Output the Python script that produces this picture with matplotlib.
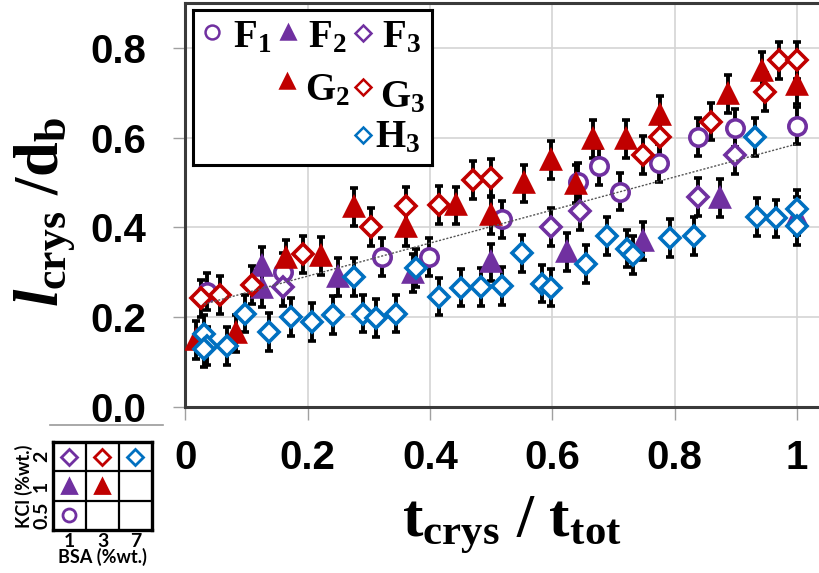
import matplotlib
matplotlib.use("Agg")
import matplotlib.pyplot as plt
from matplotlib.lines import Line2D

plt.rcParams['mathtext.fontset'] = 'custom'
plt.rcParams['mathtext.rm'] = 'Liberation Serif:bold'
plt.rcParams['mathtext.bf'] = 'Liberation Serif:bold'
plt.rcParams['mathtext.it'] = 'Liberation Serif:italic:bold'

# data (t_crys/t_tot, l_crys/d_b)
f1_x = [0.035, 0.160, 0.322, 0.399, 0.517, 0.642, 0.676, 0.710, 0.774, 0.838, 0.898, 1.0]
f1_y = [0.257, 0.301, 0.334, 0.334, 0.418, 0.502, 0.536, 0.480, 0.543, 0.602, 0.621, 0.627]

f2_x = [0.125, 0.125, 0.250, 0.373, 0.500, 0.624, 0.749, 0.874, 1.0]
f2_y = [0.314, 0.265, 0.290, 0.298, 0.322, 0.345, 0.370, 0.465, 0.426]

f3_x = [0.160, 0.598, 0.645, 0.838, 0.898]
f3_y = [0.267, 0.401, 0.436, 0.468, 0.561]

g2_x = [0.018, 0.083, 0.165, 0.222, 0.276, 0.360, 0.443, 0.500, 0.554, 0.598, 0.638,
        0.666, 0.721, 0.776, 0.888, 0.943, 1.0]
g2_y = [0.149, 0.164, 0.331, 0.337, 0.445, 0.400, 0.449, 0.427, 0.498, 0.550, 0.497,
        0.597, 0.597, 0.651, 0.698, 0.748, 0.718]

g3_x = [0.026, 0.056, 0.109, 0.193, 0.304, 0.360, 0.414, 0.471, 0.500, 0.749, 0.776,
        0.860, 0.948, 0.971, 1.0]
g3_y = [0.242, 0.249, 0.271, 0.340, 0.401, 0.448, 0.450, 0.506, 0.510, 0.562, 0.602,
        0.636, 0.701, 0.772, 0.772]

h3_x = [0.031, 0.035, 0.030, 0.068, 0.098, 0.137, 0.173, 0.207, 0.241, 0.276, 0.291,
        0.311, 0.344, 0.377, 0.414, 0.451, 0.483, 0.517, 0.550, 0.583, 0.598, 0.655,
        0.690, 0.722, 0.732, 0.792, 0.832, 0.931, 0.935, 0.966, 1.0, 1.0]
h3_y = [0.162, 0.136, 0.130, 0.136, 0.208, 0.167, 0.200, 0.190, 0.205, 0.290, 0.208,
        0.199, 0.208, 0.310, 0.246, 0.266, 0.268, 0.270, 0.342, 0.275, 0.266, 0.319,
        0.381, 0.353, 0.339, 0.376, 0.381, 0.601, 0.424, 0.420, 0.441, 0.404]

err = 0.042
trend_x = [0.03, 1.0]
trend_y = [0.229, 0.586]

purple = '#7030A0'
red = '#C00000'
blue = '#0070C0'

# series: (name, x, y, marker, color, filled)
series = [
    ('F1', f1_x, f1_y, 'o', purple, False),
    ('F2', f2_x, f2_y, '^', purple, True),
    ('F3', f3_x, f3_y, 'D', purple, False),
    ('G2', g2_x, g2_y, '^', red, True),
    ('G3', g3_x, g3_y, 'D', red, False),
    ('H3', h3_x, h3_y, 'D', blue, False),
]
msize = {'o': 12.5, '^': 12.5, 'D': 10.5}

fig = plt.figure(figsize=(8.2, 5.73), dpi=100)
ax = fig.add_axes([185.4 / 820, 166 / 573, (835 - 185.4) / 820, 404 / 573])
ax.set_xlim(0, (835 - 185.4) / 611.5)
ax.set_ylim(0, 0.9)

ax.grid(True, color='#d4d4d4', lw=1.2)
ax.set_axisbelow(True)

for name, x, y, m, c, filled in series:
    ax.errorbar(x, y, yerr=err, fmt='none', ecolor='black', elinewidth=2.8,
                capsize=3, capthick=2.6, zorder=2)
for name, x, y, m, c, filled in series:
    ax.plot(x, y, ls='none', marker=m, ms=msize[m], mec=c, mew=2.6,
            mfc=c if filled else 'white', zorder=3)

ax.plot(trend_x, trend_y, color='#555555', lw=1.0, ls=(0, (1.5, 1.2)), zorder=4)

ax.set_xticks([0, 0.2, 0.4, 0.6, 0.8, 1.0])
ax.set_xticklabels(['0', '0.2', '0.4', '0.6', '0.8', '1'])
ax.set_yticks([0, 0.2, 0.4, 0.6, 0.8])
ax.set_yticklabels(['0.0', '0.2', '0.4', '0.6', '0.8'])
for lab in ax.get_xticklabels() + ax.get_yticklabels():
    lab.set_fontfamily('Liberation Sans')
    lab.set_fontweight('bold')
    lab.set_fontsize(29)
ax.tick_params(axis='both', direction='out', length=9, width=1, color='#a0a0a0')
ax.tick_params(axis='y', pad=19)
ax.tick_params(axis='x', pad=14)
for s in ['left', 'top', 'bottom']:
    ax.spines[s].set_color('#3a3a3a')
    ax.spines[s].set_linewidth(2.2)
ax.spines['right'].set_visible(False)

fig.text(45 / 820, 1 - 212 / 573, r'$\mathit{l}_{\mathrm{crys}}\ /\mathrm{d}_{\mathrm{b}}$',
         rotation=90, ha='center', va='center', fontsize=45)
fig.text(512 / 820, 1 - 525 / 573, r'$\mathrm{t}_{\mathrm{crys}}\ /\ \mathrm{t}_{\mathrm{tot}}$',
         ha='center', va='center', fontsize=44)

# legend box, drawn in its own pixel-space axes
lg = fig.add_axes([193 / 820, 1 - 165 / 573, 239 / 820, 155 / 573])
lg.set_xlim(0, 239)
lg.set_ylim(155, 0)
lg.set_xticks([])
lg.set_yticks([])
for s in lg.spines.values():
    s.set_linewidth(2.2)
    s.set_color('black')
leg_items = [
    ('F', '1', 'o', purple, False, 19, 22, 40, 37),
    ('F', '2', '^', purple, True, 95, 22, 115, 37),
    ('F', '3', 'D', purple, False, 170, 23, 189, 37),
    ('G', '2', '^', red, True, 94, 71, 112, 90),
    ('G', '3', 'D', red, False, 170, 77, 187, 97),
    ('H', '3', 'D', blue, False, 170, 125, 182, 137),
]
for let, sub, m, c, filled, mx, my, tx, ty in leg_items:
    lg.plot([mx], [my], marker=m, ms=msize[m] * 0.8, mec=c, mew=1.8,
            mfc=c if filled else 'white', ls='none')
    lg.text(tx, ty, r'$\mathrm{%s}_{\mathrm{%s}}$' % (let, sub), fontsize=28,
            ha='left', va='baseline')

# inset key: BSA vs KCl
bsa = ['1', '3', '7']
kcl = ['0.5', '1', '2']
key_cells = [(0, 0, 'o', purple, False), (0, 1, '^', purple, True), (0, 2, 'D', purple, False),
             (1, 1, '^', red, True), (1, 2, 'D', red, False), (2, 2, 'D', blue, False)]
ins = fig.add_axes([53 / 820, 1 - 530 / 573, 99 / 820, 88 / 573])
ins.set_xlim(0, 3)
ins.set_ylim(0, 3)
for v in [1, 2]:
    ins.axvline(v, color='black', lw=1.6)
    ins.axhline(v, color='black', lw=1.6)
for i, j, m, c, filled in key_cells:
    ins.plot([i + 0.5], [j + 0.5], marker=m, ms=msize[m] * 0.75, mec=c, mew=2,
             mfc=c if filled else 'white', ls='none')
ins.set_xticks([0.5, 1.5, 2.5])
ins.set_xticklabels(bsa)
ins.set_yticks([0.5, 1.5, 2.5])
ins.set_yticklabels(kcl, rotation=90, va='center')
ins.tick_params(length=0, pad=2, labelsize=14)
for lab in ins.get_xticklabels() + ins.get_yticklabels():
    lab.set_fontfamily('Lato')
    lab.set_fontweight('bold')
ins.set_xlabel('BSA (%wt.)', fontsize=13, fontweight='bold', family='Lato', labelpad=-1)
ins.set_ylabel('KCl (%wt.)', fontsize=13, fontweight='bold', family='Lato', labelpad=0)
for s in ins.spines.values():
    s.set_linewidth(2.4)
    s.set_color('black')

fig.add_artist(Line2D([50 / 820, 163 / 820], [1 - 425 / 573, 1 - 425 / 573],
                      color='#9a9a9a', lw=1.2))

fig.savefig('out.png', dpi=100)
